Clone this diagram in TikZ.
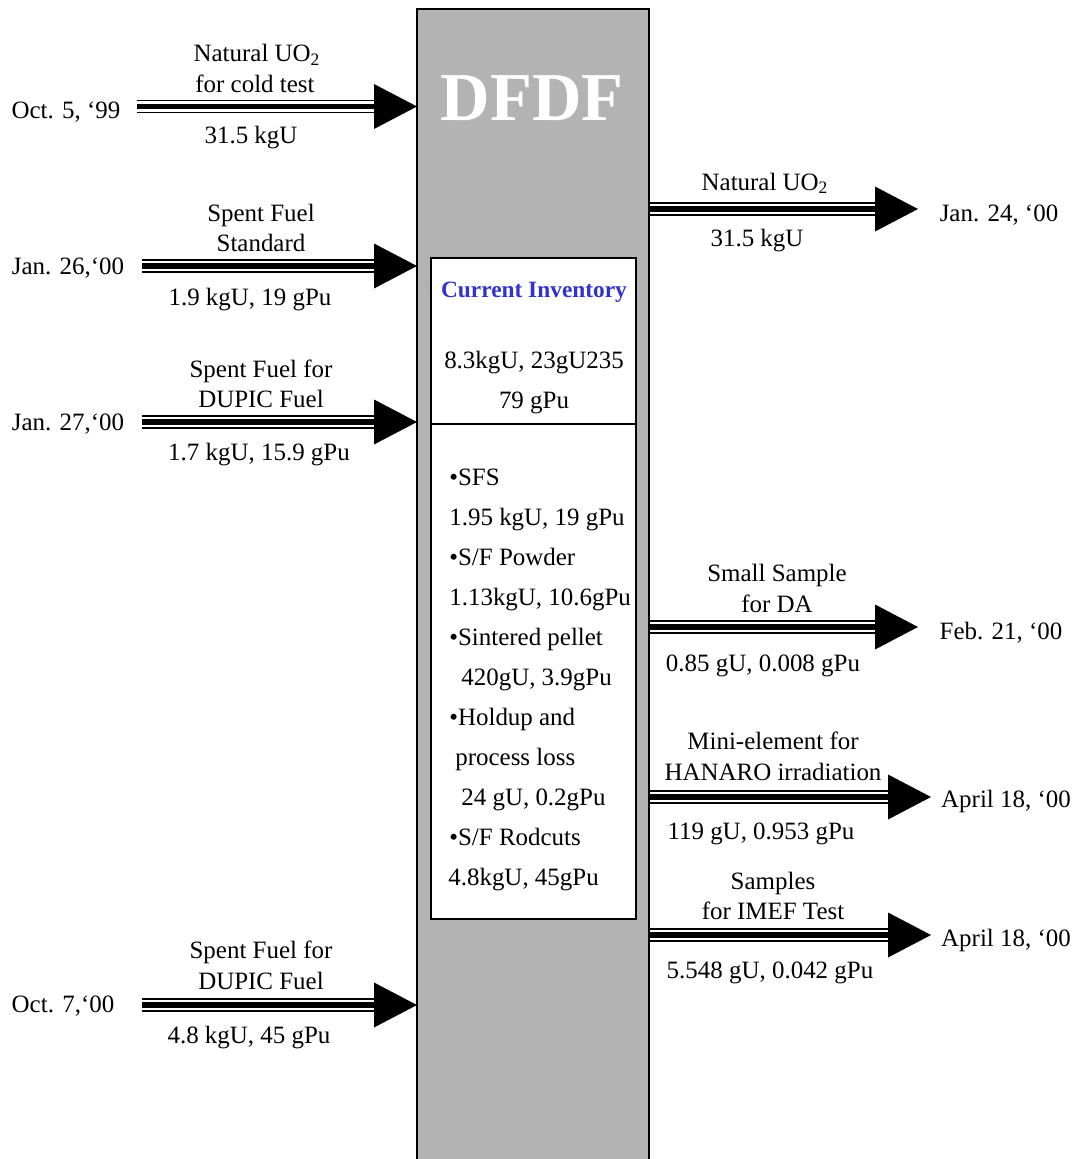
\documentclass[tikz,border=0pt]{standalone}
\usepackage{fontspec}
\setmainfont{Liberation Serif}
\usetikzlibrary{calc}
\definecolor{barg}{RGB}{179,179,179}
\definecolor{invblue}{RGB}{51,51,204}
\newcommand\flowarr[2]{%
  \draw[line width=7.9pt] (#1) -- ($(#2)+(-43,0)$);
  \draw[line width=6.2pt,white] (#1) -- ($(#2)+(-43,0)$);
  \draw[line width=2.9pt] (#1) -- ($(#2)+(-43,0)$);
  \fill (#2) -- ++(-43,-22.5) -- ++(0,45) -- cycle;}
\tikzset{
  txt/.style={inner sep=0pt, anchor=base, font=\fontsize{14.2}{17}\selectfont},
  ltxt/.style={txt, anchor=base west},
  boxline/.style={line width=1.2pt, draw=black}
}
\begin{document}
\begin{tikzpicture}[x=0.02cm,y=-0.02cm]
\useasboundingbox[fill=white] (0,0) rectangle (1079,1159);
% DFDF bar
\draw[boxline, fill=barg] (417,9) rectangle (649,1180);
\node[inner sep=0pt, anchor=base, text=white, font=\fontsize{39}{40}\selectfont\bfseries] (title) at (532,120) {DFDF};
% inventory box
\draw[boxline, fill=white] (431,258) rectangle (636,919);
\draw[boxline] (431,424) -- (636,424);
\node[inner sep=0pt, anchor=base, text=invblue, font=\fontsize{13.3}{15}\selectfont\bfseries] (invt) at (534,297) {Current Inventory};
\node[txt] (inv1) at (534,368) {8.3kgU, 23gU235};
\node[txt] (inv2) at (534,408) {79 gPu};
\node[ltxt] (l1) at (449,485) {•SFS};
\node[ltxt] (l2) at (449,525) {1.95 kgU, 19 gPu};
\node[ltxt] (l3) at (449,565) {•S/F Powder};
\node[ltxt] (l4) at (449,605) {1.13kgU, 10.6gPu};
\node[ltxt] (l5) at (449,645) {•Sintered pellet};
\node[ltxt] (l6) at (461,685) {420gU, 3.9gPu};
\node[ltxt] (l7) at (449,725) {•Holdup and};
\node[ltxt] (l8) at (455,765) {process loss};
\node[ltxt] (l9) at (461,805) {24 gU, 0.2gPu};
\node[ltxt] (l10) at (449,845) {•S/F Rodcuts};
\node[ltxt] (l11) at (448,885) {4.8kgU, 45gPu};
% coordinates of arrows
\coordinate (a1s) at (137,106.5); \coordinate (a1e) at (417,106.5);
\coordinate (a2s) at (142,266); \coordinate (a2e) at (417,266);
\coordinate (a3s) at (142,422); \coordinate (a3e) at (417,422);
\coordinate (a4s) at (142,1005); \coordinate (a4e) at (417,1005);
\coordinate (b1s) at (650,209); \coordinate (b1e) at (918,209);
\coordinate (b2s) at (650,627); \coordinate (b2e) at (918,627);
\coordinate (b3s) at (650,797); \coordinate (b3e) at (931,797);
\coordinate (b4s) at (650,935); \coordinate (b4e) at (931,935);
\flowarr{a1s}{a1e}
\flowarr{a2s}{a2e}
\flowarr{a3s}{a3e}
\flowarr{a4s}{a4e}
\flowarr{b1s}{b1e}
\flowarr{b2s}{b2e}
\flowarr{b3s}{b3e}
\flowarr{b4s}{b4e}
% left labels
\node[txt] (a1t1) at (257,62) {Natural UO\textsubscript{2}};
\node[txt] (a1t2) at (255,92) {for cold test};
\node[txt] (a1d) at (66,118) {Oct. 5, ‘99};
\node[txt] (a1b) at (251,143) {31.5 kgU};
\node[txt] (a2t1) at (261,221) {Spent Fuel};
\node[txt] (a2t2) at (261,251) {Standard};
\node[txt] (a2d) at (68,274) {Jan. 26,‘00};
\node[txt] (a2b) at (250,305) {1.9 kgU, 19 gPu};
\node[txt] (a3t1) at (261,377) {Spent Fuel for};
\node[txt] (a3t2) at (261,407) {DUPIC Fuel};
\node[txt] (a3d) at (68,430) {Jan. 27,‘00};
\node[txt] (a3b) at (259,460) {1.7 kgU, 15.9 gPu};
\node[txt] (a4t1) at (261,958) {Spent Fuel for};
\node[txt] (a4t2) at (261,989) {DUPIC Fuel};
\node[txt] (a4d) at (63,1012) {Oct. 7,‘00};
\node[txt] (a4b) at (249,1043) {4.8 kgU, 45 gPu};
% right labels
\node[txt] (b1t1) at (765,190) {Natural UO\textsubscript{2}};
\node[txt] (b1d) at (999,221) {Jan. 24, ‘00};
\node[txt] (b1b) at (757,246) {31.5 kgU};
\node[txt] (b2t1) at (777,581) {Small Sample};
\node[txt] (b2t2) at (777,612) {for DA};
\node[txt] (b2d) at (1001,639) {Feb. 21, ‘00};
\node[txt] (b2b) at (763,671) {0.85 gU, 0.008 gPu};
\node[txt] (b3t1) at (773,749) {Mini-element for};
\node[txt] (b3t2) at (773,780) {HANARO irradiation};
\node[txt] (b3d) at (1006,807) {April 18, ‘00};
\node[txt] (b3b) at (761,839) {119 gU, 0.953 gPu};
\node[txt] (b4t1) at (773,889) {Samples};
\node[txt] (b4t2) at (773,919) {for IMEF Test};
\node[txt] (b4d) at (1006,946) {April 18, ‘00};
\node[txt] (b4b) at (770,978) {5.548 gU, 0.042 gPu};
\end{tikzpicture}
\end{document}
